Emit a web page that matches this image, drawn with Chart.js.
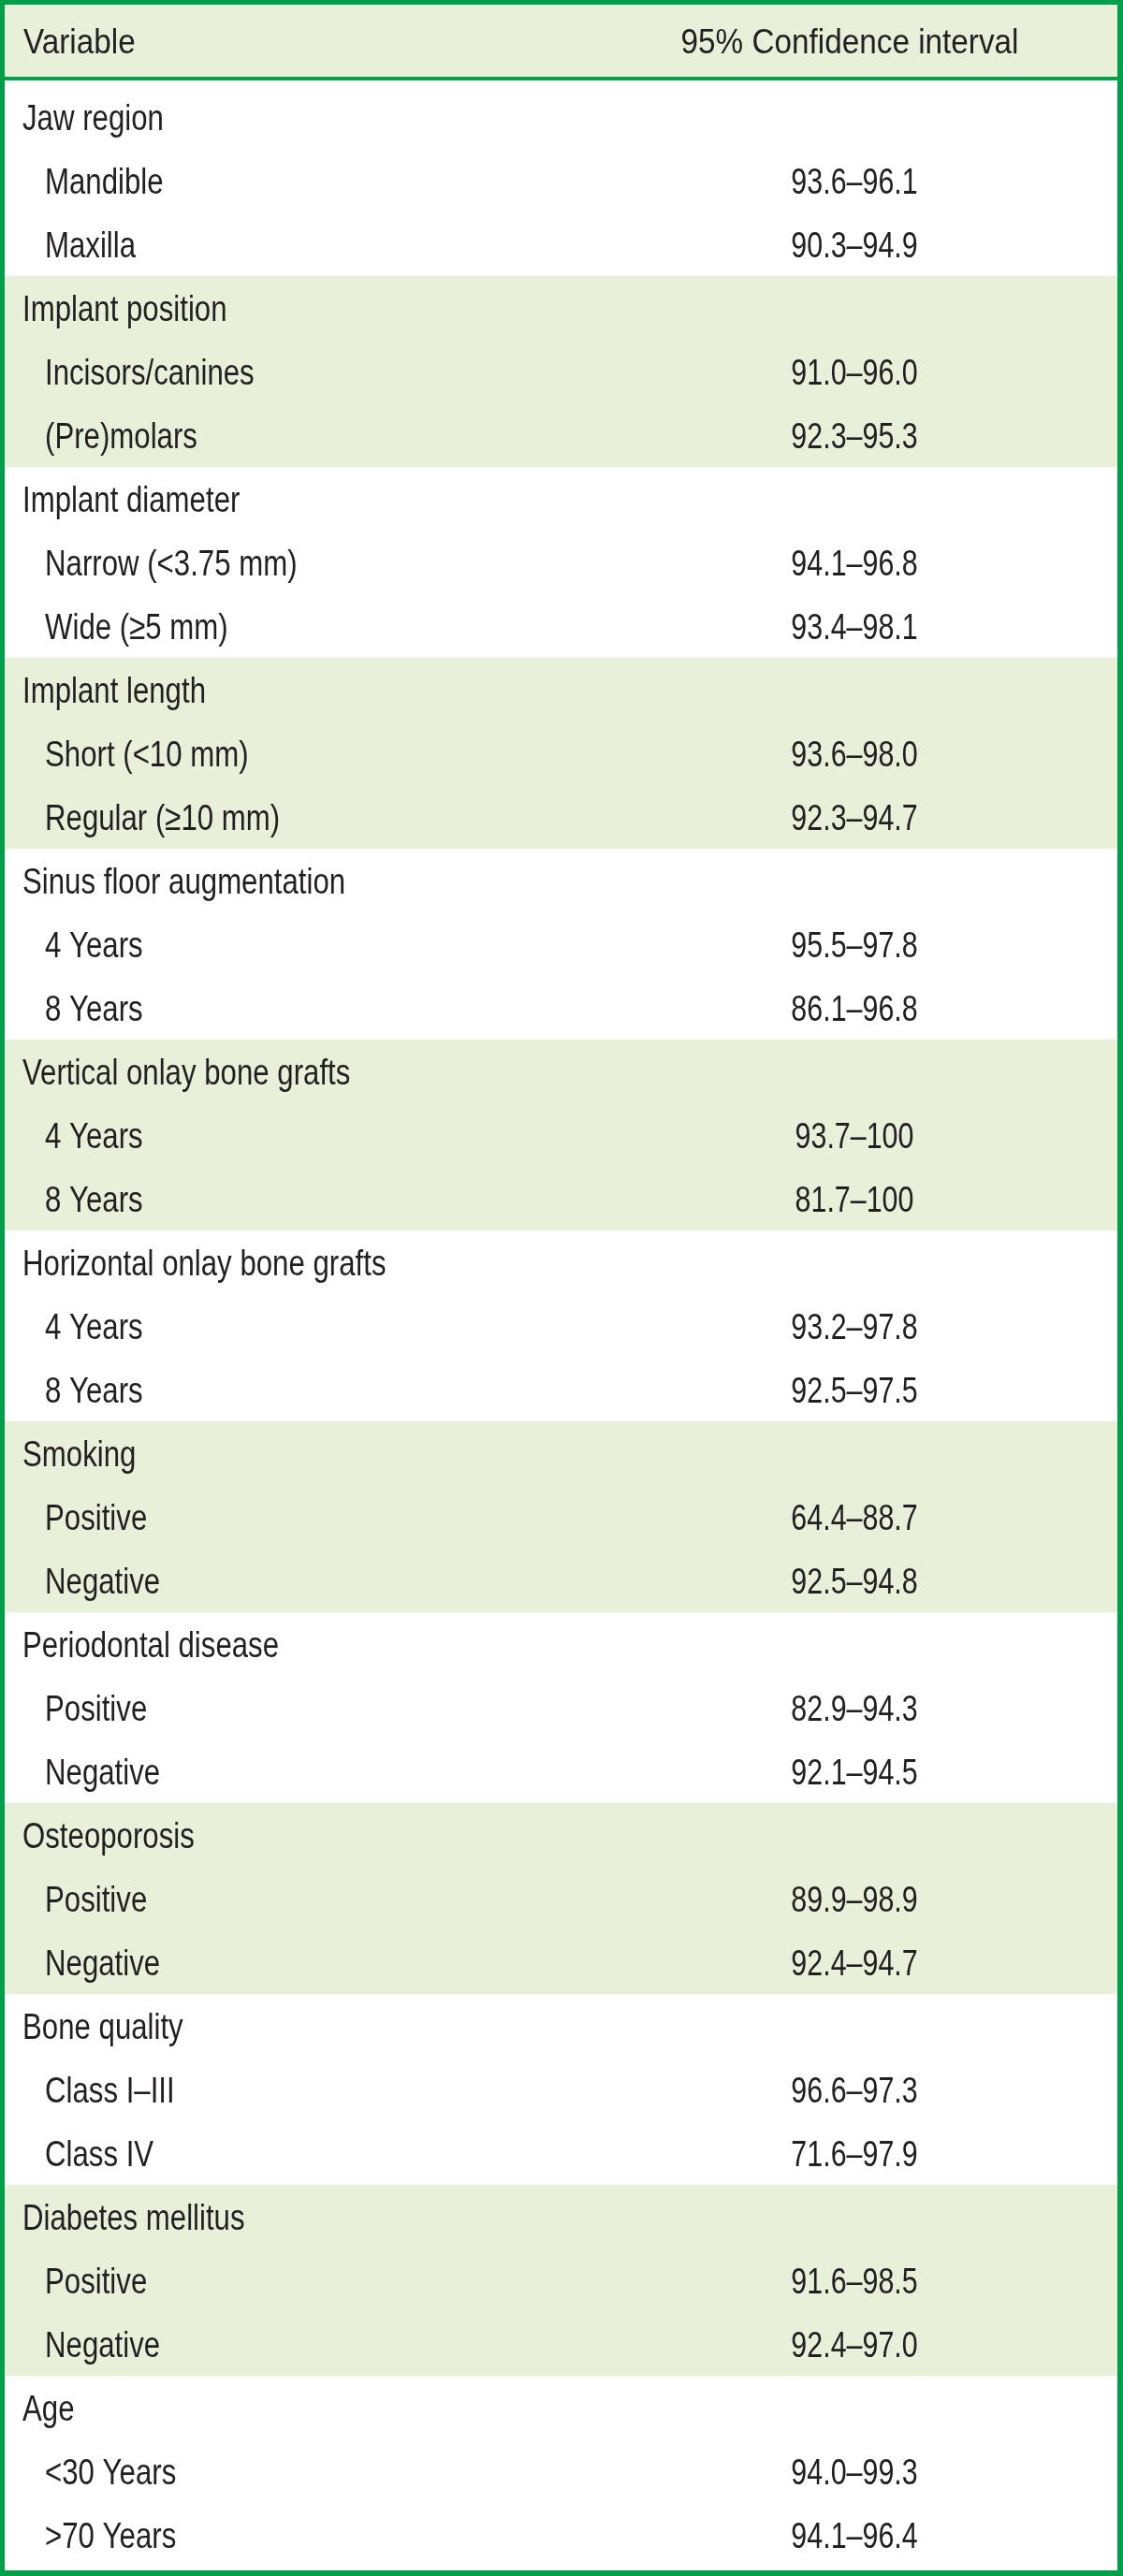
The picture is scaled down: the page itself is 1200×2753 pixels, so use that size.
<!DOCTYPE html>
<html>
<head>
<meta charset="utf-8">
<title>95% confidence intervals by variable</title>
<script src="https://cdn.jsdelivr.net/npm/chart.js@4.4.1/dist/chart.umd.min.js"></script>
<style>
  html, body { margin: 0; padding: 0; background: #ffffff; }
  #wrap { position: relative; width: 1200px; height: 2753px; }
</style>
</head>
<body>
<div id="wrap"><canvas id="ciTable"></canvas></div>
<script>
  const columnHeaders = ["Variable", "95% Confidence interval"];

  // one entry per table row; group rows have no interval
  const rowLabels = [
    "Jaw region", "Mandible", "Maxilla",
    "Implant position", "Incisors/canines", "(Pre)molars",
    "Implant diameter", "Narrow (<3.75 mm)", "Wide (\u22655 mm)",
    "Implant length", "Short (<10 mm)", "Regular (\u226510 mm)",
    "Sinus floor augmentation", "4 Years", "8 Years",
    "Vertical onlay bone grafts", "4 Years", "8 Years",
    "Horizontal onlay bone grafts", "4 Years", "8 Years",
    "Smoking", "Positive", "Negative",
    "Periodontal disease", "Positive", "Negative",
    "Osteoporosis", "Positive", "Negative",
    "Bone quality", "Class I\u2013III", "Class IV",
    "Diabetes mellitus", "Positive", "Negative",
    "Age", "<30 Years", ">70 Years",
  ];
  const ciLower = [
    null, 93.6, 90.3,
    null, 91.0, 92.3,
    null, 94.1, 93.4,
    null, 93.6, 92.3,
    null, 95.5, 86.1,
    null, 93.7, 81.7,
    null, 93.2, 92.5,
    null, 64.4, 92.5,
    null, 82.9, 92.1,
    null, 89.9, 92.4,
    null, 96.6, 71.6,
    null, 91.6, 92.4,
    null, 94.0, 94.1,
  ];
  const ciUpper = [
    null, 96.1, 94.9,
    null, 96.0, 95.3,
    null, 96.8, 98.1,
    null, 98.0, 94.7,
    null, 97.8, 96.8,
    null, 100, 100,
    null, 97.8, 97.5,
    null, 88.7, 94.8,
    null, 94.3, 94.5,
    null, 98.9, 94.7,
    null, 97.3, 97.9,
    null, 98.5, 97.0,
    null, 99.3, 96.4,
  ];

  const GREEN = "#00a04b";
  const BAND = "#e8f0da";
  const INK = "#231f20";
  const BORDER = 5;
  const BODY_FONT = "39px 'Liberation Sans', Arial, sans-serif";
  const HEAD_FONT = "37px 'Liberation Sans', Arial, sans-serif";
  const ciColumnCenter = 0.762; // fraction of table width

  // which group each row belongs to, every other group is shaded
  let groupIdx = -1;
  const rowGroup = rowLabels.map((_, i) => {
    if (ciLower[i] === null) groupIdx++;
    return groupIdx;
  });
  const bandData = rowGroup.map((g) => (g % 2 === 1 ? [0, 1] : null));

  function fmt(v) {
    return Number.isInteger(v) && v >= 100 ? String(v) : v.toFixed(1);
  }

  function squeezedText(ctx, text, x, y, sx) {
    ctx.save();
    ctx.translate(x, y);
    ctx.scale(sx, 1);
    ctx.fillText(text, 0, 0);
    ctx.restore();
  }

  const tablePlugin = {
    id: "tableText",
    beforeDatasetsDraw(chart) {
      const { ctx, chartArea } = chart;
      ctx.save();
      ctx.fillStyle = BAND;
      ctx.fillRect(chartArea.left, BORDER, chartArea.right - chartArea.left, chartArea.top - 9 - BORDER);
      ctx.fillStyle = GREEN;
      ctx.fillRect(0, chartArea.top - 9, chart.width, 4);
      ctx.restore();
    },
    afterDatasetsDraw(chart) {
      const { ctx, chartArea } = chart;
      const yScale = chart.scales.y;
      const xScale = chart.scales.x;
      const ciX = xScale.getPixelForValue(ciColumnCenter);

      ctx.save();
      ctx.fillStyle = INK;
      ctx.textBaseline = "alphabetic";

      // header row
      ctx.font = HEAD_FONT;
      ctx.textAlign = "left";
      squeezedText(ctx, columnHeaders[0], chartArea.left + 20, chartArea.top - 34, 0.9);
      ctx.textAlign = "center";
      squeezedText(ctx, columnHeaders[1], ciX - 3, chartArea.top - 34, 0.9);

      // body rows
      ctx.font = BODY_FONT;
      rowLabels.forEach((label, i) => {
        const y = yScale.getPixelForValue(i) + 14;
        const isGroup = ciLower[i] === null;
        ctx.textAlign = "left";
        squeezedText(ctx, label, chartArea.left + (isGroup ? 19 : 43), y, 0.8);
        if (!isGroup) {
          ctx.textAlign = "center";
          squeezedText(ctx, fmt(ciLower[i]) + "\u2013" + fmt(ciUpper[i]), ciX + 2, y, 0.78);
        }
      });

      // outer frame
      ctx.fillStyle = GREEN;
      ctx.fillRect(0, 0, chart.width, BORDER);
      ctx.fillRect(0, 0, BORDER, chart.height);
      ctx.fillRect(chart.width - 6, 0, 6, chart.height);
      ctx.fillRect(0, chart.height - 6, chart.width, 6);
      ctx.restore();
    },
  };

  new Chart(document.getElementById("ciTable"), {
    type: "bar",
    data: {
      labels: rowLabels,
      datasets: [
        {
          label: "band",
          data: bandData,
          backgroundColor: BAND,
          borderWidth: 0,
          barPercentage: 1,
          categoryPercentage: 1,
        },
      ],
    },
    options: {
      indexAxis: "y",
      responsive: true,
      maintainAspectRatio: false,
      animation: false,
      devicePixelRatio: 1,
      layout: { padding: { top: 91, left: 5, right: 6, bottom: 10 } },
      scales: {
        x: { type: "linear", min: 0, max: 1, display: false },
        y: { type: "category", display: false },
      },
      plugins: {
        legend: { display: false },
        tooltip: { enabled: false },
      },
    },
    plugins: [tablePlugin],
  });
</script>
</body>
</html>
